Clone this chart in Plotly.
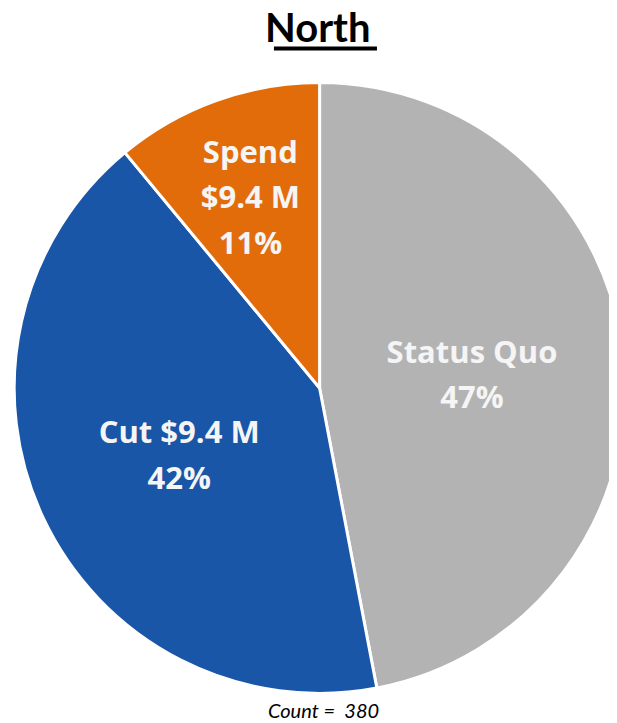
import plotly.graph_objects as go

categories = ["Status Quo", "Cut $9.4 M", "Spend<br>$9.4 M"]
values = [47, 42, 11]
colors = ["#B3B3B3", "#1A56A8", "#E36C0A"]
count_total = 380
title_text = "North"

GLYPH = 31  # rendered glyph size; textfont size below sets the line spacing


def wrap(s, pad=False):
    lines = s.split("<br>")
    if pad:
        lines = ["&nbsp;"] + ["&nbsp;&nbsp;" + part for part in lines]
    return "<br>".join(f"<span style='font-size:{GLYPH}px'>{part}</span>" for part in lines)


text_labels = [wrap(f"{c}<br>{v}%", pad=(v < 20)) for c, v in zip(categories, values)]

fig = go.Figure(go.Pie(
    labels=categories,
    values=values,
    text=text_labels,
    textinfo="text",
    textposition="inside",
    insidetextorientation="horizontal",
    sort=False,
    direction="clockwise",
    rotation=0,
    marker=dict(colors=colors, line=dict(color="white", width=3)),
    textfont=dict(family="Open Sans", size=35, color="#F5F5F5", weight="bold"),
    hoverinfo="label+percent",
    showlegend=False,
    domain=dict(x=[0.01, 1.0], y=[0.042, 0.907]),
))

fig.update_layout(
    width=617, height=723,
    margin=dict(l=0, r=0, t=0, b=0),
    paper_bgcolor="white",
    plot_bgcolor="white",
    uniformtext=dict(minsize=35, mode="show"),
    title=dict(
        text=f"<b>{title_text}</b>",
        x=0.502, xanchor="center",
        y=0.992, yanchor="top",
        font=dict(family="Lato", size=40, color="black"),
    ),
    shapes=[dict(
        type="line", xref="paper", yref="paper",
        x0=0.431, x1=0.598, y0=0.944, y1=0.944,
        line=dict(color="black", width=4),
    )],
    annotations=[dict(
        text=f"<i>Count =  {count_total}</i>",
        x=0.512, y=0.010, xref="paper", yref="paper",
        xanchor="center", yanchor="bottom",
        showarrow=False,
        font=dict(family="Lato", size=20, color="black"),
    )],
)

fig.write_html("out.html")
